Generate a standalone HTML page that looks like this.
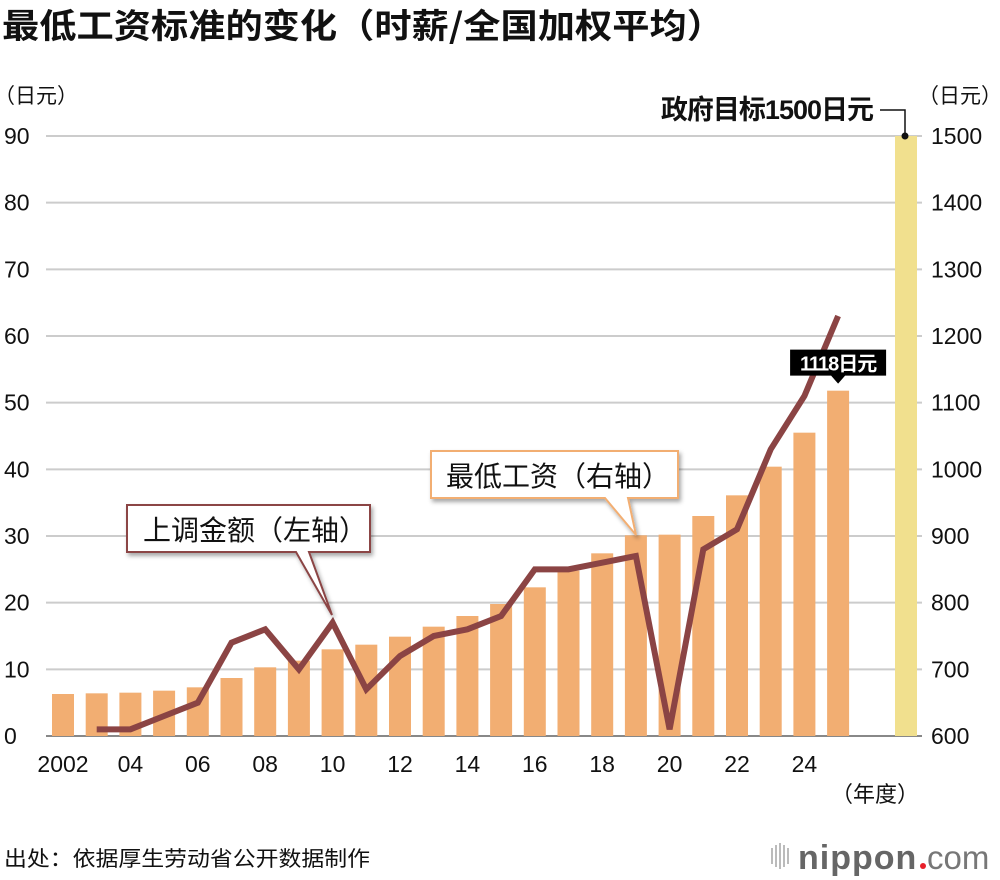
<!DOCTYPE html>
<html><head><meta charset="utf-8"><style>
html,body{margin:0;padding:0;background:#fff;}
svg{display:block;font-family:"Liberation Sans","Noto Sans CJK SC",sans-serif;}
.cjk{font-family:"Noto Sans CJK SC",sans-serif;}
</style></head><body>
<svg id="chart" width="1000" height="880" viewBox="0 0 1000 880">
<defs><filter id="sh" x="-10%" y="-10%" width="130%" height="140%"><feDropShadow dx="2" dy="3" stdDeviation="2" flood-color="#000" flood-opacity="0.35"/></filter></defs>
<text x="2" y="38" font-size="34" font-weight="bold" fill="#111" class="cjk" textLength="722" lengthAdjust="spacingAndGlyphs">最低工资标准的变化（时薪/全国加权平均）</text>
<text x="-6" y="103" font-size="21" fill="#111" class="cjk">（日元）</text>
<text x="918" y="103" font-size="21" fill="#111" class="cjk">（日元）</text>
<g id="grid"></g><g id="bars"></g><g id="line"></g><g id="labels"></g>
<text x="875" y="802" font-size="22" fill="#111" text-anchor="middle" class="cjk">（年度）</text>
<text x="4" y="866" font-size="21" fill="#111" class="cjk" textLength="366" lengthAdjust="spacingAndGlyphs">出处：依据厚生劳动省公开数据制作</text>
<g>
<g fill="#bbb"><rect x="771" y="848" width="2" height="16"/><rect x="775" y="845" width="2" height="22"/><rect x="779" y="843" width="2" height="26"/><rect x="783" y="845" width="2" height="22"/><rect x="787" y="848" width="2" height="16"/></g>
<text x="798" y="869" font-size="34" fill="#666" font-weight="bold" letter-spacing="1">nippon</text>
<circle cx="923" cy="866" r="3" fill="#e8202a"/>
<text x="927" y="869" font-size="33" fill="#777">com</text>
</g>
</svg>
<script>
const years=[2002,2003,2004,2005,2006,2007,2008,2009,2010,2011,2012,2013,2014,2015,2016,2017,2018,2019,2020,2021,2022,2023,2024,2025];
const wage=[663,664,665,668,673,687,703,713,730,737,749,764,780,798,823,848,874,901,902,930,961,1004,1055,1118];
const increase=[null,1,1,3,5,14,16,10,17,7,12,15,16,18,25,25,26,27,1,28,31,43,51,63];
const leftTicks=[0,10,20,30,40,50,60,70,80,90];
const rightTicks=[600,700,800,900,1000,1100,1200,1300,1400,1500];
const xTickLabels=["2002","04","06","08","10","12","14","16","18","20","22","24"];
const target=1500;
const NS="http://www.w3.org/2000/svg";
function mk(t,a,p){const e=document.createElementNS(NS,t);for(const k in a)e.setAttribute(k,a[k]);p.appendChild(e);return e;}
const y0=736,y1=136;
const yL=v=>y0-(v/90)*(y0-y1);
const yR=v=>y0-((v-600)/900)*(y0-y1);
const x=yr=>63+(yr-2002)*33.7;
const g=document.getElementById('grid'),b=document.getElementById('bars'),l=document.getElementById('line'),lb=document.getElementById('labels');
leftTicks.forEach((t,i)=>{
 const yy=yL(t);
 const ln=mk('line',{x1:46,x2:922,y1:yy,y2:yy,stroke:i==0?'#888':'#ccc','stroke-width':2},g);
 
 
 const tx=mk('text',{x:4,y:yy+8,'font-size':23,fill:'#111'},lb);tx.textContent=t;
 
 
});
rightTicks.forEach(t=>{
 const tx=mk('text',{x:931,y:yR(t)+8,'font-size':23,fill:'#111'},lb);tx.textContent=t;
 
 
});
xTickLabels.forEach((s,i)=>{
 const tx=mk('text',{x:x(2002+2*i),y:772,'font-size':23,fill:'#111','text-anchor':'middle'},lb);tx.textContent=s;
 
 
});
years.forEach((yr,i)=>{
 const r=mk('rect',{x:x(yr)-11,y:yR(wage[i]),width:22,height:y0-yR(wage[i]),fill:'#f2ae72'},b);
 
 
});
const tb=mk('rect',{x:895,y:yR(target),width:22,height:y0-yR(target),fill:'#f1e08e'},b);


let pts=[];years.forEach((yr,i)=>{if(increase[i]!=null)pts.push(x(yr)+','+yL(increase[i]));});
const pl=mk('polyline',{points:pts.join(' '),fill:'none',stroke:'#8b4444','stroke-width':6,'stroke-linejoin':'miter','stroke-linecap':'butt'},l);


const ty=yR(target);
const tl=mk('polyline',{points:`880,${ty-26} 905,${ty-26} 905,${ty}`,fill:'none',stroke:'#111','stroke-width':1.5},lb);


const tc=mk('circle',{cx:905,cy:ty,r:3.5,fill:'#111'},lb);


const tt=mk('text',{x:873,y:ty-17,'font-size':27,'font-weight':'bold',fill:'#111','text-anchor':'end','letter-spacing':'-1'},lb);tt.textContent='政府目标1500日元';


const lx=x(2025),ly=yR(wage[23]);
const tag=mk('path',{d:`M${lx-48},${ly-41} h96 v26 h-41 l-7,8 l-7,-8 h-41 z`,fill:'#000'},lb);


const tgt=mk('text',{x:lx,y:ly-20,'font-size':20,'font-weight':'bold',fill:'#fff','text-anchor':'middle','letter-spacing':'-1'},lb);tgt.textContent='1118日元';


const c1=mk('path',{d:'M127,505 H370 V552 H309 L332,615 L296,552 H127 Z',fill:'#fff',stroke:'#8b4444','stroke-width':2,filter:'url(#sh)'},lb);


const c1t=mk('text',{x:143,y:540,'font-size':28,fill:'#111','class':'cjk'},lb);c1t.textContent='上调金额（左轴）';


const c2=mk('path',{d:'M431,451 H678 V498 H628 L636,535 L605,498 H431 Z',fill:'#fff',stroke:'#f2ae72','stroke-width':2,filter:'url(#sh)'},lb);


const c2t=mk('text',{x:446,y:486,'font-size':28,fill:'#111','class':'cjk'},lb);c2t.textContent='最低工资（右轴）';


</script>
</body></html>
